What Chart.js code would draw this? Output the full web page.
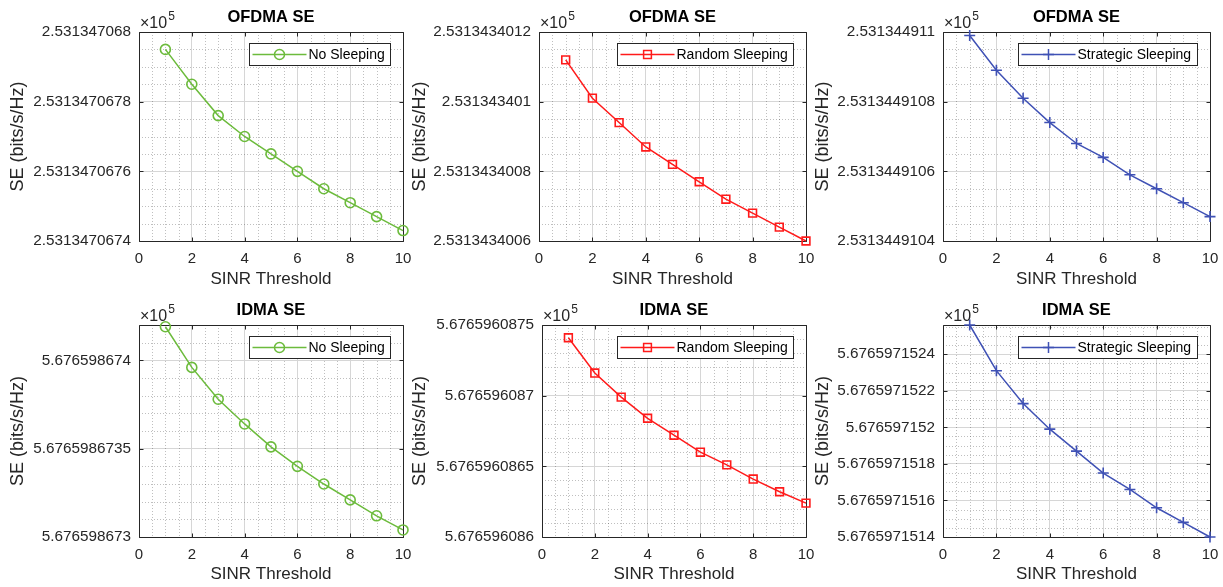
<!DOCTYPE html>
<html><head><meta charset="utf-8">
<script src="https://cdn.jsdelivr.net/npm/chart.js@4.4.1/dist/chart.umd.min.js"></script>
<style>
html,body{margin:0;padding:0;background:#fff;}
#wrap{position:relative;width:1223px;height:587px;overflow:hidden;background:#fff;}
#wrap canvas{position:absolute;}
</style></head><body><div id="wrap"></div>
<script>
// ---------------- data ----------------
const sinr = [1, 2, 3, 4, 5, 6, 7, 8, 9, 10];
const xTickValues = [0, 2, 4, 6, 8, 10];

const ofdmaNoSleep    = [2.53134706795, 2.53134706785, 2.53134706776, 2.53134706770, 2.53134706765, 2.53134706760, 2.53134706755, 2.53134706751, 2.53134706747, 2.53134706743];
const ofdmaRandom     = [2.53134340112, 2.53134340101, 2.53134340094, 2.53134340087, 2.53134340082, 2.53134340077, 2.53134340072, 2.53134340068, 2.53134340064, 2.53134340060];
const ofdmaStrategic  = [2.53134491099, 2.53134491089, 2.53134491081, 2.53134491074, 2.53134491068, 2.53134491064, 2.53134491059, 2.53134491055, 2.53134491051, 2.53134491047];
const idmaNoSleep     = [5.67659867419, 5.67659867396, 5.67659867378, 5.67659867364, 5.67659867351, 5.67659867340, 5.67659867330, 5.67659867321, 5.67659867312, 5.67659867304];
const idmaRandom      = [5.67659608741, 5.67659608716, 5.67659608699, 5.67659608684, 5.67659608672, 5.67659608660, 5.67659608651, 5.67659608641, 5.67659608632, 5.67659608624];
const idmaStrategic   = [5.67659715256, 5.67659715231, 5.67659715213, 5.67659715199, 5.67659715187, 5.67659715175, 5.67659715166, 5.67659715156, 5.67659715148, 5.67659715140];

// y tick labels (bottom to top), as printed on the figure (x 10^5)
const ofdmaNoSleepTicks   = ['2.5313470674', '2.5313470676', '2.5313470678', '2.531347068'];
const ofdmaRandomTicks    = ['2.5313434006', '2.5313434008', '2.531343401', '2.5313434012'];
const ofdmaStrategicTicks = ['2.5313449104', '2.5313449106', '2.5313449108', '2.531344911'];
const idmaNoSleepTicks    = ['5.676598673', '5.6765986735', '5.676598674'];
const idmaRandomTicks     = ['5.676596086', '5.6765960865', '5.676596087', '5.6765960875'];
const idmaStrategicTicks  = ['5.6765971514', '5.6765971516', '5.6765971518', '5.676597152', '5.6765971522', '5.6765971524'];

// axis ranges
const ofdmaNoSleepRange   = [2.5313470674, 2.531347068];
const ofdmaRandomRange    = [2.5313434006, 2.5313434012];
const ofdmaStrategicRange = [2.5313449104, 2.531344911];
const idmaNoSleepRange    = [5.676598673, 5.6765986742];
const idmaRandomRange     = [5.676596086, 5.6765960875];
const idmaStrategicRange  = [5.6765971514, 5.67659715256];

const seriesNames = ['No Sleeping', 'Random Sleeping', 'Strategic Sleeping'];
const panelTitles = ['OFDMA SE', 'IDMA SE'];
const xLabel = 'SINR Threshold';
const yLabel = 'SE (bits/s/Hz)';
const exponentText = ['\u00d710', '5'];

// ---------------- styling / layout ----------------
const FONT = '"Liberation Sans", Arial, Helvetica, sans-serif';
const styles = [
  {color: '#6cbb3c', point: 'circle', r: 5},
  {color: '#ff1a1a', point: 'rect', r: 5.5},
  {color: '#3f51b5', point: 'cross', r: 5.5}
];

const panels = [
  {title: panelTitles[0], s: 0, vals: ofdmaNoSleep,   ticks: ofdmaNoSleepTicks,   range: ofdmaNoSleepRange,   minor: 5e-11, left: 0,   top: 0,   w: 413, h: 290, padR: 10, padT: 32, yW: 139, xH: 49, yTP: 7.5, xTP: 0},
  {title: panelTitles[0], s: 1, vals: ofdmaRandom,    ticks: ofdmaRandomTicks,    range: ofdmaRandomRange,    minor: 5e-11, left: 405, top: 0,   w: 411, h: 290, padR: 10, padT: 32, yW: 134, xH: 49, yTP: 4.5, xTP: 0},
  {title: panelTitles[0], s: 2, vals: ofdmaStrategic, ticks: ofdmaStrategicTicks, range: ofdmaStrategicRange, minor: 5e-11, left: 808, top: 0,   w: 415, h: 290, padR: 13, padT: 32, yW: 135, xH: 49, yTP: 4.5, xTP: 0},
  {title: panelTitles[1], s: 0, vals: idmaNoSleep,    ticks: idmaNoSleepTicks,    range: idmaNoSleepRange,    minor: 1e-10, left: 0,   top: 290, w: 413, h: 297, padR: 10, padT: 35, yW: 139, xH: 50, yTP: 7.5, xTP: 2},
  {title: panelTitles[1], s: 1, vals: idmaRandom,     ticks: idmaRandomTicks,     range: idmaRandomRange,     minor: 1e-10, left: 405, top: 290, w: 411, h: 297, padR: 10, padT: 35, yW: 137, xH: 50, yTP: 4.5, xTP: 2},
  {title: panelTitles[1], s: 2, vals: idmaStrategic,  ticks: idmaStrategicTicks,  range: idmaStrategicRange,  minor: 5e-11, left: 808, top: 290, w: 415, h: 297, padR: 13, padT: 35, yW: 135, xH: 50, yTP: 4.5, xTP: 2}
];

function drawMarker(ctx, style, x, y, r) {
  ctx.beginPath();
  if (style === 'circle') {
    ctx.arc(x, y, r, 0, Math.PI * 2);
  } else if (style === 'rect') {
    const s = r * Math.SQRT1_2;
    ctx.rect(x - s, y - s, 2 * s, 2 * s);
  } else {
    ctx.moveTo(x - r, y); ctx.lineTo(x + r, y);
    ctx.moveTo(x, y - r); ctx.lineTo(x, y + r);
  }
  ctx.stroke();
}

// minor grid, box and inward ticks (drawn under the data, like MATLAB)
const axesPlugin = {
  id: 'matlabAxes',
  beforeDatasetsDraw(chart, args, o) {
    const {ctx, chartArea: ca, scales: {x, y}} = chart;
    const px = v => Math.round(v) + 0.5;
    ctx.save();
    ctx.strokeStyle = 'rgba(0,0,0,0.25)';
    ctx.lineWidth = 1;
    ctx.setLineDash([1, 2]);
    ctx.beginPath();
    for (let k = 1; k * o.xMinor < x.max; k++) {
      const v = k * o.xMinor;
      if (x.ticks.some(t => Math.abs(t.value - v) < 1e-9)) continue;
      const p = px(x.getPixelForValue(v));
      ctx.moveTo(p, ca.top); ctx.lineTo(p, ca.bottom);
    }
    const yMajor = y.ticks.map(t => t.value);
    for (let k = 1; ; k++) {
      const v = y.min + k * o.yMinor;
      const pp = y.getPixelForValue(v);
      if (pp < ca.top + 1) break;
      if (yMajor.some(t => Math.abs(t - v) < o.yMinor * 0.05)) continue;
      const p = px(pp);
      ctx.moveTo(ca.left, p); ctx.lineTo(ca.right, p);
    }
    ctx.stroke();
    ctx.setLineDash([]);
    ctx.strokeStyle = '#262626';
    ctx.beginPath();
    const L = px(ca.left), R = px(ca.right), T = px(ca.top), B = px(ca.bottom);
    ctx.rect(L, T, R - L, B - T);
    const tl = 4;
    x.ticks.forEach(t => {
      const p = px(x.getPixelForValue(t.value));
      ctx.moveTo(p, B); ctx.lineTo(p, B - tl);
      ctx.moveTo(p, T); ctx.lineTo(p, T + tl);
    });
    y.ticks.forEach(t => {
      const p = px(y.getPixelForValue(t.value));
      ctx.moveTo(L, p); ctx.lineTo(L + tl, p);
      ctx.moveTo(R, p); ctx.lineTo(R - tl, p);
    });
    ctx.stroke();
    ctx.restore();
  }
};

// title, exponent and boxed legend
const annotPlugin = {
  id: 'matlabAnnot',
  afterDraw(chart, args, o) {
    const {ctx, chartArea: ca} = chart;
    ctx.save();
    ctx.fillStyle = '#000';
    ctx.font = 'bold 16.5px ' + FONT;
    ctx.textAlign = 'center';
    ctx.textBaseline = 'middle';
    ctx.fillText(o.title, (ca.left + ca.right) / 2, ca.top - 15);

    ctx.fillStyle = '#262626';
    ctx.textAlign = 'left';
    ctx.textBaseline = 'alphabetic';
    ctx.font = '16px ' + FONT;
    ctx.fillText(exponentText[0], ca.left + 1, ca.top - 4);
    const ew = ctx.measureText(exponentText[0]).width;
    ctx.font = '12px ' + FONT;
    ctx.fillText(exponentText[1], ca.left + 2 + ew, ca.top - 12);

    const ds = chart.data.datasets[0];
    ctx.font = '14px ' + FONT;
    const tw = ctx.measureText(ds.label).width;
    const w = Math.round(3 + 54 + 2 + tw + 6), h = 22;
    const x0 = Math.round(ca.right - 13 - w) + 0.5, y0 = Math.round(ca.top + 11) + 0.5;
    ctx.fillStyle = '#fff';
    ctx.fillRect(x0, y0, w, h);
    ctx.strokeStyle = '#262626';
    ctx.lineWidth = 1;
    ctx.strokeRect(x0, y0, w, h);
    const cy = y0 + h / 2;
    ctx.strokeStyle = ds.borderColor;
    ctx.lineWidth = 1.5;
    ctx.beginPath(); ctx.moveTo(x0 + 3, cy); ctx.lineTo(x0 + 57, cy); ctx.stroke();
    drawMarker(ctx, ds.pointStyle, x0 + 30, cy, ds.pointRadius);
    ctx.fillStyle = '#000';
    ctx.textBaseline = 'middle';
    ctx.fillText(ds.label, x0 + 59, cy + 0.5);
    ctx.restore();
  }
};

const wrap = document.getElementById('wrap');
panels.forEach(p => {
  const cv = document.createElement('canvas');
  cv.width = p.w; cv.height = p.h;
  cv.style.left = p.left + 'px'; cv.style.top = p.top + 'px';
  cv.style.width = p.w + 'px'; cv.style.height = p.h + 'px';
  wrap.appendChild(cv);
  const st = styles[p.s];
  const tickVals = p.ticks.map(Number);
  new Chart(cv, {
    type: 'line',
    data: {
      datasets: [{
        label: seriesNames[p.s],
        data: sinr.map((x, i) => ({x: x, y: p.vals[i]})),
        borderColor: st.color,
        backgroundColor: 'rgba(0,0,0,0)',
        borderWidth: 1.5,
        pointStyle: st.point,
        pointRadius: st.r,
        pointHoverRadius: st.r,
        pointBorderWidth: 1.6,
        pointBorderColor: st.color,
        pointBackgroundColor: 'rgba(0,0,0,0)',
        tension: 0,
        clip: false
      }]
    },
    options: {
      responsive: false,
      animation: false,
      devicePixelRatio: 1,
      events: [],
      layout: {padding: {left: 0, right: p.padR, top: p.padT, bottom: 0}},
      plugins: {
        legend: {display: false},
        tooltip: {enabled: false},
        title: {display: false},
        matlabAxes: {xMinor: 0.5, yMinor: p.minor},
        matlabAnnot: {title: p.title}
      },
      scales: {
        x: {
          type: 'linear', min: 0, max: 10,
          afterBuildTicks: s => { s.ticks = xTickValues.map(v => ({value: v})); },
          afterFit: s => { s.height = p.xH; s.paddingLeft = 0; s.paddingRight = 0; },
          ticks: {autoSkip: false, maxRotation: 0, padding: 9, color: '#262626',
                  font: {family: FONT, size: 15}, callback: v => String(v)},
          grid: {color: '#d6d6d6', lineWidth: 1, drawTicks: false},
          border: {display: false},
          title: {display: true, text: xLabel, color: '#262626',
                  font: {family: FONT, size: 17}, padding: {top: 0, bottom: p.xTP}}
        },
        y: {
          type: 'linear', min: p.range[0], max: p.range[1],
          afterBuildTicks: s => { s.ticks = tickVals.map(v => ({value: v})); },
          afterFit: s => { s.width = p.yW; s.paddingTop = 0; s.paddingBottom = 0; },
          ticks: {autoSkip: false, padding: 8, color: '#262626',
                  font: {family: FONT, size: 15.3},
                  callback: (v, i) => {
                    let best = 0;
                    tickVals.forEach((t, j) => { if (Math.abs(t - v) < Math.abs(tickVals[best] - v)) best = j; });
                    return p.ticks[best];
                  }},
          grid: {color: '#d6d6d6', lineWidth: 1, drawTicks: false},
          border: {display: false},
          title: {display: true, text: yLabel, color: '#262626',
                  font: {family: FONT, size: 18}, padding: {top: p.yTP, bottom: 0}}
        }
      }
    },
    plugins: [axesPlugin, annotPlugin]
  });
});
</script>
</body></html>
